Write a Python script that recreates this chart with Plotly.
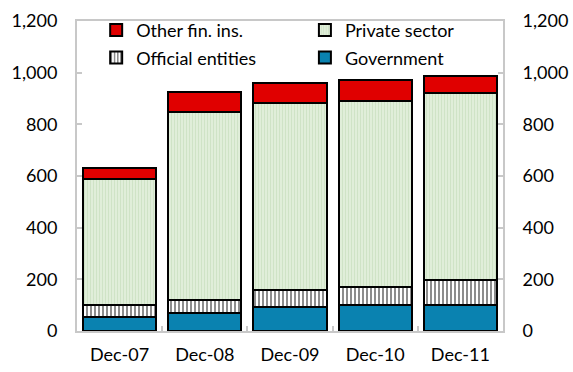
import plotly.graph_objects as go

categories = ["Dec-07", "Dec-08", "Dec-09", "Dec-10", "Dec-11"]
government = [56, 69, 93, 100, 100]
official_entities = [44, 52, 66, 71, 97]
private_sector = [489, 726, 725, 721, 725]
other_fin_ins = [41, 80, 76, 78, 66]
y_ticks = [0, 200, 400, 600, 800, 1000, 1200]

FONT = "Lato"
FS = 18
GRID = "#c8c8c8"

fig = go.Figure()
line = dict(color="black", width=2)

fig.add_trace(go.Bar(x=categories, y=government, name="Government",
                     marker=dict(color="#0a82b0", line=line), legend="legend4"))
fig.add_trace(go.Bar(x=categories, y=official_entities, name="Official entities",
                     marker=dict(color="white", line=line,
                                 pattern=dict(shape="|", fgcolor="#808080", bgcolor="white",
                                              size=4, solidity=0.45, fillmode="replace")),
                     legend="legend3"))
fig.add_trace(go.Bar(x=categories, y=private_sector, name="Private sector",
                     marker=dict(color="#dcecd4", line=line,
                                 pattern=dict(shape="|", fgcolor="#cfe3c6", bgcolor="#e2f0db",
                                              size=3, solidity=0.4, fillmode="replace")),
                     legend="legend2"))
fig.add_trace(go.Bar(x=categories, y=other_fin_ins, name="Other fin. ins.",
                     marker=dict(color="#e00000", line=line), legend="legend"))
# invisible trace for right axis
fig.add_trace(go.Scatter(x=categories, y=[None]*5, yaxis="y2", showlegend=False,
                         hoverinfo="skip"))

def leg(x, y):
    return dict(orientation="h", x=x, y=y, xanchor="left", yanchor="middle",
                bgcolor="rgba(0,0,0,0)", font=dict(size=FS), itemwidth=30)

fig.update_layout(
    width=573, height=372,
    margin=dict(l=77, r=70, t=12, b=41),
    barmode="stack", bargap=0.14,
    plot_bgcolor="white", paper_bgcolor="white",
    font=dict(family=FONT, size=FS, color="black"),
    xaxis=dict(showline=True, linecolor=GRID, linewidth=2, mirror=True,
               ticks="inside", tickson="boundaries", tickcolor=GRID, ticklen=5,
               tickwidth=2, showgrid=False, ticklabelstandoff=6, automargin=False),
    yaxis=dict(range=[0, 1200], tickvals=y_ticks, tickformat=",d",
               showline=True, linecolor=GRID, linewidth=2, mirror=True,
               ticks="inside", tickcolor=GRID, ticklen=5, tickwidth=2,
               showgrid=False, zeroline=False, ticklabelstandoff=14, automargin=False),
    yaxis2=dict(range=[0, 1200], tickvals=y_ticks, tickformat=",d", overlaying="y",
                side="right", showline=True, linecolor=GRID, linewidth=2,
                ticks="inside", tickcolor=GRID, ticklen=5, tickwidth=2,
                showgrid=False, zeroline=False, ticklabelstandoff=14, automargin=False),
    legend=leg(0.045, 0.97),
    legend2=leg(0.535, 0.97),
    legend3=leg(0.045, 0.881),
    legend4=leg(0.535, 0.881),
    showlegend=True,
)

fig.write_html("out.html")
